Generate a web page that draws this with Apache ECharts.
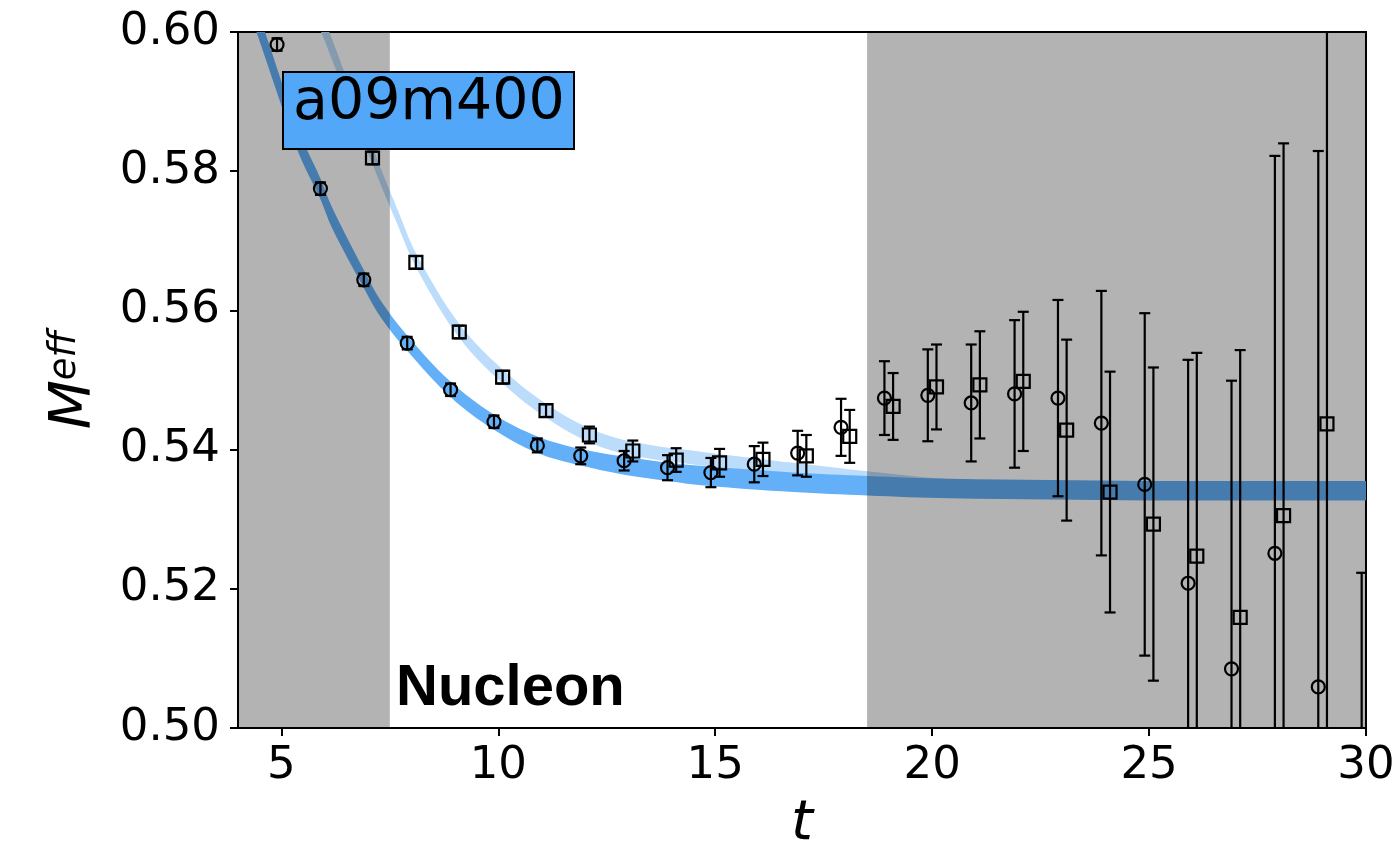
<!DOCTYPE html>
<html><head><meta charset="utf-8">
<script src="https://cdn.jsdelivr.net/npm/echarts@6/dist/echarts.min.js"></script>
<style>html,body{margin:0;padding:0;background:#fff}#c{width:1398px;height:844px}</style>
</head><body><div id="c"></div>
<script>
// ---- data ----
const tCircle = [5,6,7,8,9,10,11,12,13,14,15,16,17,18,19,20,21,22,23,24,25,26,27,28,29,30];
const mCircle = [0.5982,0.5775,0.5644,0.5553,0.5486,0.5440,0.5406,0.5391,0.5384,0.5374,0.5367,0.5379,0.5395,0.5432,
                 0.5474,0.5478,0.5467,0.5480,0.5474,0.5438,0.5350,0.5208,0.5085,0.5251,0.5059,0.4300];
const eCircle = [0.0009,0.0009,0.0009,0.0009,0.0009,0.0009,0.0010,0.0012,0.0014,0.0018,0.0021,0.0026,0.0032,0.0041,
                 0.0053,0.0066,0.0084,0.0106,0.0141,0.0190,0.0246,0.0321,0.0414,0.0571,0.0770,0.0923];
const tSquare = [7,8,9,10,11,12,13,14,15,16,17,18,19,20,21,22,23,24,25,26,27,28,29];
const mSquare = [0.5819,0.5669,0.5569,0.5504,0.5456,0.5421,0.5398,0.5385,0.5381,0.5386,0.5391,0.5419,
                 0.5462,0.5490,0.5493,0.5498,0.5428,0.5339,0.5293,0.5247,0.5159,0.5305,0.5437];
const eSquare = [0.0009,0.0009,0.0009,0.0009,0.0009,0.0012,0.0015,0.0017,0.0020,0.0024,0.0030,0.0038,
                 0.0048,0.0061,0.0077,0.0100,0.0130,0.0173,0.0225,0.0292,0.0384,0.0535,0.0750];
const circleShift = -0.1, squareShift = 0.1;

// fit bands: t, centre, half-width
const fitCircleT    = [4.30,4.53,5.21,5.48,5.89,6.17,6.91,7.28,7.90,8.91,9.91,10.90,11.90,12.90,13.90,14.80,16.80,18.50,20.40,25.00,30.00];
const fitCircleMid  = [0.6040,0.5999,0.5874,0.5830,0.5776,0.5733,0.5644,0.5603,0.5553,0.5486,0.5439,0.5407,0.5389,0.5377,0.5368,0.5362,0.5353,0.5348,0.5344,0.5341,0.5341];
const fitCircleHalf = [0.0018,0.0018,0.0017,0.0016,0.0015,0.0015,0.0013,0.0012,0.0011,0.0011,0.0011,0.0012,0.0012,0.0013,0.0013,0.0014,0.0014,0.0014,0.0014,0.0014,0.0014];
const fitSquareT    = [5.80,6.02,7.12,7.67,8.12,9.12,10.12,11.12,12.12,13.11,14.81,16.80,18.50,20.64,25.00,30.00];
const fitSquareMid  = [0.6031,0.5999,0.5819,0.5735,0.5670,0.5569,0.5504,0.5455,0.5420,0.5401,0.5386,0.5370,0.5358,0.5346,0.5342,0.5342];
const fitSquareHalf = [0.0015,0.0015,0.0012,0.0011,0.0010,0.0010,0.0010,0.0010,0.0010,0.0010,0.0010,0.0011,0.0011,0.0011,0.0011,0.0011];

const excludedWindows = [[4, 7.5], [18.5, 30]];
const xTicks = [5, 10, 15, 20, 25, 30];
const yTicks = [0.50, 0.52, 0.54, 0.56, 0.58, 0.60];
const ensembleLabel = 'a09m400';
const particleLabel = 'Nucleon';

// ---- chart ----
const chart = echarts.init(document.getElementById('c'), null, {renderer: 'canvas'});
const FONT = 'DejaVu Sans';

function bandSeries(ts, mids, halfs, color, z) {
  const data = ts.map((t, i) => [t, mids[i] - halfs[i], mids[i] + halfs[i]]);
  return {
    type: 'custom', z: z, clip: true, silent: true,
    encode: {x: 0, y: [1, 2]},
    data: data,
    renderItem: function (params, api) {
      if (params.dataIndex !== 0) return null;
      const up = [], lo = [];
      for (let i = 0; i < data.length; i++) up.push(api.coord([data[i][0], data[i][2]]));
      for (let i = data.length - 1; i >= 0; i--) lo.push(api.coord([data[i][0], data[i][1]]));
      // repeat the end vertices so the smoothing does not bulge at the band ends
      const pts = [up[0]].concat(up, [up[up.length - 1]], [lo[0]], lo, [lo[lo.length - 1]]);
      return {type: 'polygon', shape: {points: pts, smooth: 0.35}, style: {fill: color, stroke: null}};
    }
  };
}

function errSeries(ts, ms, es, shift) {
  return {
    type: 'custom', z: 4, clip: true, silent: true,
    encode: {x: 0, y: [1, 2]},
    data: ts.map((t, i) => [t + shift, ms[i] - es[i], ms[i] + es[i]]),
    renderItem: function (params, api) {
      const x = api.value(0), lo = api.value(1), hi = api.value(2);
      const a = api.coord([x, hi]), b = api.coord([x, lo]);
      const w = 5.5, st = {stroke: '#000', lineWidth: 2.2};
      return {type: 'group', children: [
        {type: 'line', shape: {x1: a[0], y1: a[1], x2: b[0], y2: b[1]}, style: st},
        {type: 'line', shape: {x1: a[0] - w, y1: a[1], x2: a[0] + w, y2: a[1]}, style: st},
        {type: 'line', shape: {x1: b[0] - w, y1: b[1], x2: b[0] + w, y2: b[1]}, style: st}
      ]};
    }
  };
}

const option = {
  animation: false,
  backgroundColor: '#fff',
  title: [
    {
      text: ensembleLabel, left: 283, top: 72, z: 10,
      backgroundColor: '#53a7f8', borderColor: '#000', borderWidth: 2,
      padding: [4, 9, 16, 10],
      textStyle: {fontFamily: FONT, fontSize: 57, fontWeight: 'normal', color: '#000', lineHeight: 57}
    },
    {
      text: particleLabel, left: 396, top: 660, z: 10, padding: 0,
      textStyle: {fontFamily: 'Liberation Sans', fontSize: 58, fontWeight: 'bold', color: '#000', lineHeight: 58}
    }
  ],
  grid: {left: 238, right: 32, top: 32, bottom: 116, show: true, borderColor: '#000', borderWidth: 2,
         backgroundColor: 'transparent', containLabel: false, outerBoundsMode: 'none'},
  xAxis: {
    type: 'value', min: 4, max: 30,
    name: 't', nameLocation: 'middle', nameGap: 68,
    nameTextStyle: {fontFamily: FONT, fontStyle: 'italic', fontSize: 56, color: '#000'},
    axisLine: {show: true, onZero: false, lineStyle: {color: '#000', width: 2}},
    axisTick: {show: true, inside: false, length: 8, lineStyle: {color: '#000', width: 2}, customValues: xTicks},
    axisLabel: {show: true, margin: 16, fontFamily: FONT, fontSize: 45, color: '#000', customValues: xTicks,
                formatter: v => String(v)},
    splitLine: {show: false}
  },
  yAxis: {
    type: 'value', min: 0.5, max: 0.6,
    name: '{m|M}{s|eff}', nameLocation: 'middle', nameGap: 134, nameRotate: 90,
    nameTextStyle: {rich: {
      m: {fontFamily: FONT, fontStyle: 'italic', fontSize: 57, color: '#000', verticalAlign: 'bottom'},
      s: {fontFamily: FONT, fontStyle: 'italic', fontSize: 37, color: '#000', verticalAlign: 'top'}
    }},
    axisLine: {show: true, onZero: false, lineStyle: {color: '#000', width: 2}},
    axisTick: {show: true, inside: false, length: 8, lineStyle: {color: '#000', width: 2}, customValues: yTicks},
    axisLabel: {show: true, margin: 18, fontFamily: FONT, fontSize: 45, color: '#000', customValues: yTicks,
                formatter: v => Number(v).toFixed(2)},
    splitLine: {show: false}
  },
  series: [
    bandSeries(fitSquareT, fitSquareMid, fitSquareHalf, 'rgb(187,220,250)', 1),
    bandSeries(fitCircleT, fitCircleMid, fitCircleHalf, 'rgb(100,176,248)', 2),
    {
      type: 'custom', z: 3, clip: true, silent: true,
      encode: {x: [0, 1]},
      data: excludedWindows,
      renderItem: function (params, api) {
        const p0 = api.coord([api.value(0), yTicks[yTicks.length - 1]]);
        const p1 = api.coord([api.value(1), yTicks[0]]);
        return {type: 'rect', shape: {x: p0[0], y: p0[1], width: p1[0] - p0[0], height: p1[1] - p0[1]},
                style: {fill: 'rgba(0,0,0,0.298)'}};
      }
    },
    errSeries(tCircle, mCircle, eCircle, circleShift),
    errSeries(tSquare, mSquare, eSquare, squareShift),
    {
      type: 'scatter', z: 5, clip: true, silent: true, symbol: 'circle', symbolSize: 13,
      itemStyle: {color: 'rgba(0,0,0,0)', borderColor: '#000', borderWidth: 2.2, opacity: 1},
      data: tCircle.map((t, i) => [t + circleShift, mCircle[i]])
    },
    {
      type: 'scatter', z: 5, clip: true, silent: true, symbol: 'rect', symbolSize: 13,
      itemStyle: {color: 'rgba(0,0,0,0)', borderColor: '#000', borderWidth: 2.2, opacity: 1},
      data: tSquare.map((t, i) => [t + squareShift, mSquare[i]])
    }
  ]
};
chart.setOption(option);
</script>
</body></html>
